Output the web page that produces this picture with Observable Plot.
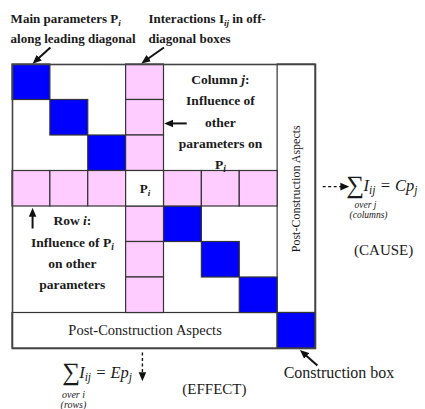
<!DOCTYPE html>
<html>
<head>
<meta charset="utf-8">
<script src="https://cdn.jsdelivr.net/npm/d3@7"></script>
<script src="https://cdn.jsdelivr.net/npm/@observablehq/plot@0.6"></script>
<style>
  html, body { margin: 0; padding: 0; background: #fff; }
  svg text { font-family: "Liberation Serif", serif; }
</style>
</head>
<body>
<div id="chart"></div>
<script>
// ---------- data ----------
const parameters = ["P1", "P2", "P3", "Pi", "P5", "P6", "P7"]; // main parameters on the leading diagonal
const focusIndex = 3;                                          // the parameter P_i under study
const postIndex = parameters.length;                           // post-construction row / column

const topLabels = ["Main parameters P_{i}", "along leading diagonal", "Interactions I_{ij} in off-", "diagonal boxes"];
const columnText = ["Column *j*:", "Influence of", "other", "parameters on", "P_{i}"];
const rowText = ["Row *i*:", "Influence of P_{i}", "on other", "parameters"];
const focusLabel = "P_{i}";
const postLabel = "Post-Construction Aspects";
const causeLabels = ["I_{ij} = Cp_{j}", "over j", "(columns)", "(CAUSE)"];
const effectLabels = ["I_{ij} = Ep_{j}", "over i", "(rows)", "(EFFECT)"];
const constructionLabel = "Construction box";

// ---------- derived tables ----------
const cells = [];
parameters.forEach((p, k) => {
  if (k === focusIndex) return;
  cells.push({col: k, row: k, type: "main"});
  cells.push({col: focusIndex, row: k, type: "interaction"});
  cells.push({col: k, row: focusIndex, type: "interaction"});
});
cells.push({col: focusIndex, row: focusIndex, type: "focus"});
cells.push({col: postIndex, row: postIndex, type: "construction"});

const postRegions = [
  {x1: postIndex, x2: postIndex + 1, y1: 0, y2: postIndex, label: postLabel, vertical: true},
  {x1: 0, x2: postIndex, y1: postIndex, y2: postIndex + 1, label: postLabel, vertical: false}
];

const palette = {main: "#0000ff", construction: "#0000ff", interaction: "#ffccff", focus: "#ffffff"};

// annotation layout (grid units)
const L = {
  top: [[-0.05, -1.3], [-0.05, -0.71], [3.59, -1.3], [3.59, -0.71]],
  col: [5.49, 1.56], row: [1.58, 5.24],
  sumR: [9.05, 3.40], formR: [9.27, 3.41], overR: [9.32, 3.97], colsR: [9.40, 4.25], cause: [9.8, 5.24],
  sumB: [1.55, 8.66], formB: [1.76, 8.67], overB: [1.61, 9.30], rowsB: [1.61, 9.58], effect: [5.33, 9.15],
  constr: [7.16, 8.70]
};
const solidArrows = [
  {x1: 1.0, y1: -0.48, x2: 0.60, y2: -0.09},
  {x1: 4.0, y1: -0.48, x2: 3.48, y2: -0.09},
  {x1: 4.6, y1: 1.66, x2: 4.10, y2: 1.66},
  {x1: 0.53, y1: 4.62, x2: 0.53, y2: 4.14},
  {x1: 8.05, y1: 8.48, x2: 7.66, y2: 8.11}
];
const dashedArrows = [
  {x1: 8.19, y1: 3.44, x2: 8.80, y2: 3.44},
  {x1: 3.43, y1: 8.11, x2: 3.43, y2: 8.82}
];

const txt = (arr, pos, opts) => Plot.text(arr.map((t, i) => ({t, x: pos[i][0], y: pos[i][1]})), {x: "x", y: "y", text: "t", fill: "#1a1a1a", ...opts});
const one = (t, p, opts) => Plot.text([{t, x: p[0], y: p[1]}], {x: "x", y: "y", text: "t", fill: "#1a1a1a", ...opts});

const chart = Plot.plot({
  width: 425, height: 409,
  marginLeft: 12, marginRight: 110, marginTop: 64, marginBottom: 61,
  x: {domain: [0, postIndex + 1], axis: null},
  y: {domain: [0, postIndex + 1], reverse: true, axis: null},
  color: {type: "identity"},
  style: {background: "#fff", fontFamily: "Liberation Serif"},
  marks: [
    Plot.rect(postRegions, {x1: "x1", x2: "x2", y1: "y1", y2: "y2", fill: "#fff", stroke: "#333", strokeWidth: 1.2}),
    Plot.rect(cells, {x1: d => d.col, x2: d => d.col + 1, y1: d => d.row, y2: d => d.row + 1,
      fill: d => palette[d.type], stroke: "#333", strokeWidth: 1.2}),
    Plot.frame({stroke: "#444", strokeWidth: 1.6}),
    Plot.text(postRegions, {x: d => (d.x1 + d.x2) / 2, y: d => (d.y1 + d.y2) / 2, text: "label",
      rotate: d => d.vertical ? -90 : 0, fontSize: d => d.vertical ? 12 : 14.5, fill: "#1a1a1a"}),
    one(focusLabel, [focusIndex + 0.5, focusIndex + 0.5], {fontSize: 13, fontWeight: "bold"}),
    txt(topLabels, L.top, {textAnchor: "start", fontSize: 13, fontWeight: "bold"}),
    one(columnText.join("\n"), L.col, {fontSize: 13.5, fontWeight: "bold", lineHeight: 1.58}),
    one(rowText.join("\n"), L.row, {fontSize: 13.5, fontWeight: "bold", lineHeight: 1.58}),
    one("\u2211", L.sumR, {fontSize: 25}),
    one(causeLabels[0], L.formR, {textAnchor: "start", fontSize: 16.5, fontStyle: "italic"}),
    one(causeLabels[1], L.overR, {fontSize: 9.5, fontStyle: "italic"}),
    one(causeLabels[2], L.colsR, {fontSize: 9.5, fontStyle: "italic"}),
    one(causeLabels[3], L.cause, {fontSize: 15}),
    one("\u2211", L.sumB, {fontSize: 25}),
    one(effectLabels[0], L.formB, {textAnchor: "start", fontSize: 16.5, fontStyle: "italic"}),
    one(effectLabels[1], L.overB, {fontSize: 10, fontStyle: "italic", fontFamily: "DejaVu Sans Mono"}),
    one(effectLabels[2], L.rowsB, {fontSize: 10, fontStyle: "italic", fontFamily: "DejaVu Sans Mono"}),
    one(effectLabels[3], L.effect, {fontSize: 15}),
    one(constructionLabel, L.constr, {textAnchor: "start", fontSize: 16}),
    Plot.link(solidArrows, {x1: "x1", y1: "y1", x2: "x2", y2: "y2", stroke: "#111", strokeWidth: 2}),
    Plot.link(dashedArrows, {x1: "x1", y1: "y1", x2: "x2", y2: "y2", stroke: "#111", strokeWidth: 1.4, strokeDasharray: "3,2.5"})
  ]
});

// filled triangular arrowheads on the links
const NS = "http://www.w3.org/2000/svg";
const defs = document.createElementNS(NS, "defs");
defs.innerHTML = '<marker id="tri" viewBox="0 0 10 10" refX="6" refY="5" markerWidth="9" markerHeight="9" markerUnits="userSpaceOnUse" orient="auto"><path d="M0,0.8L10,5L0,9.2z" fill="#111"/></marker>';
chart.insertBefore(defs, chart.firstChild);
chart.querySelectorAll('g[aria-label="link"] path').forEach(p => p.setAttribute("marker-end", "url(#tri)"));

// rich text: _{sub} subscripts and *italic*
chart.querySelectorAll("text, tspan").forEach(el => {
  if (el.children.length) return;
  const s = el.textContent;
  if (!/_\{|\*/.test(s)) return;
  el.textContent = "";
  const re = /_\{([^}]*)\}|\*([^*]*)\*|([^_*]+|_)/g;
  let m;
  while ((m = re.exec(s))) {
    const t = document.createElementNS(NS, "tspan");
    if (m[1] != null) {
      t.textContent = m[1];
      t.setAttribute("baseline-shift", "-3");
      t.setAttribute("font-size", "0.7em");
      t.setAttribute("font-style", "italic");
    } else if (m[2] != null) {
      t.textContent = m[2];
      t.setAttribute("font-style", "italic");
    } else t.textContent = m[3];
    el.appendChild(t);
  }
});

document.getElementById("chart").appendChild(chart);
</script>
</body>
</html>
